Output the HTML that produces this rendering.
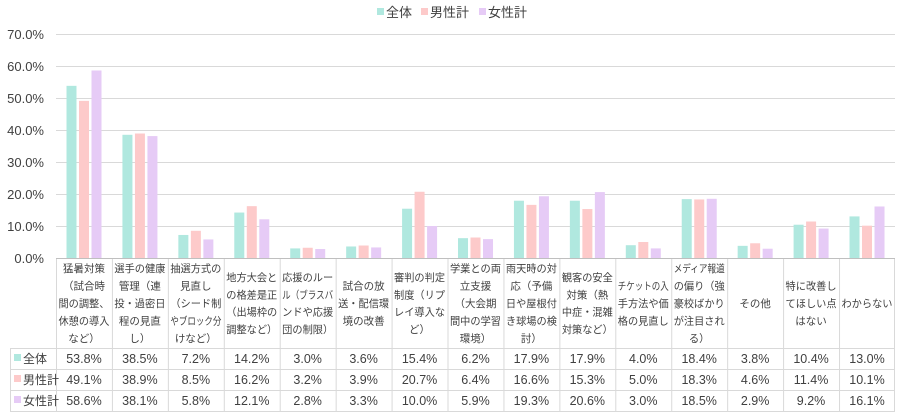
<!DOCTYPE html><html><head><meta charset="utf-8"><style>
body{margin:0;background:#fff;width:899px;height:415px;overflow:hidden}
svg{font-family:"Liberation Sans","Noto Sans CJK JP",sans-serif}
</style></head><body>
<svg width="899" height="415" xmlns="http://www.w3.org/2000/svg">
<g font-size="13" fill="#404040">
<rect x="377" y="8" width="7" height="7" fill="#b0e8df"/><text x="386" y="17">全体</text>
<rect x="421" y="8" width="7" height="7" fill="#fdcaca"/><text x="430" y="17">男性計</text>
<rect x="479" y="8" width="7" height="7" fill="#e6cbf6"/><text x="488" y="17">女性計</text>
</g>
<g stroke="#d9d9d9" stroke-width="1">
<line x1="56" x2="895" y1="34.5" y2="34.5"/><line x1="56" x2="895" y1="66.5" y2="66.5"/>
<line x1="56" x2="895" y1="98.5" y2="98.5"/><line x1="56" x2="895" y1="130.5" y2="130.5"/>
<line x1="56" x2="895" y1="162.5" y2="162.5"/><line x1="56" x2="895" y1="194.5" y2="194.5"/>
<line x1="56" x2="895" y1="226.5" y2="226.5"/>
</g>
<g font-size="13" fill="#404040" text-anchor="end">
<text x="44" y="39">70.0%</text><text x="44" y="71">60.0%</text><text x="44" y="103">50.0%</text>
<text x="44" y="135">40.0%</text><text x="44" y="167">30.0%</text><text x="44" y="199">20.0%</text>
<text x="44" y="231">10.0%</text><text x="44" y="263">0.0%</text>
</g>
<g id="bars"></g>
<g stroke="#d9d9d9" stroke-width="1" fill="none" id="grid"></g>
<g font-size="11.5" fill="#404040" text-anchor="middle" id="txt"></g>
</svg>
<script>
var d=[[53.8,49.1,58.6],[38.5,38.9,38.1],[7.2,8.5,5.8],[14.2,16.2,12.1],[3.0,3.2,2.8],[3.6,3.9,3.3],[15.4,20.7,10.0],[6.2,6.4,5.9],[17.9,16.6,19.3],[17.9,15.3,20.6],[4.0,5.0,3.0],[18.4,18.3,18.5],[3.8,4.6,2.9],[10.4,11.4,9.2],[13.0,10.1,16.1]];
var labels=[["猛暑対策","（試合時","間の調整、","休憩の導入","など）"],["選手の健康","管理（連","投・過密日","程の見直","し）"],["抽選方式の","見直し","（シード制","やブロック分","けなど）"],["地方大会と","の格差是正","（出場枠の","調整など）"],["応援のルー","ル（ブラスバ","ンドや応援","団の制限）"],["試合の放","送・配信環","境の改善"],["審判の判定","制度（リプ","レイ導入な","ど）"],["学業との両","立支援","（大会期","間中の学習","環境）"],["雨天時の対","応（予備","日や屋根付","き球場の検","討）"],["観客の安全","対策（熱","中症・混雑","対策など）"],["チケットの入","手方法や価","格の見直し"],["メディア報道","の偏り（強","豪校ばかり","が注目され","る）"],["その他"],["特に改善し","てほしい点","はない"],["わからない"]];
var cols=["#b0e8df","#fdcaca","#e6cbf6"],names=["全体","男性計","女性計"];
var ns="http://www.w3.org/2000/svg",X0=56,W=55.93;
function el(p,t,a,s){var e=document.createElementNS(ns,t);for(var k in a)e.setAttribute(k,a[k]);if(s!=null)e.textContent=s;document.getElementById(p).appendChild(e);}
d.forEach(function(r,i){r.forEach(function(v,j){var h=v*3.2;el("bars","rect",{x:X0+i*W+10.5+j*12.5,y:258-h,width:10,height:h,fill:cols[j]});});
var cx=X0+i*W+W/2,L=labels[i],n=L.length,y0=303-(n-1)*8.7+4;
L.forEach(function(s,k){var a={x:cx,y:y0+k*17.4,"font-size":"10.5"};if(s.length>=5){a.textLength=Math.min(51,s.length*10.2);a.lengthAdjust="spacingAndGlyphs";}el("txt","text",a,s);});
r.forEach(function(v,j){el("txt","text",{x:cx,y:363+j*21,"font-size":"12.5"},v.toFixed(1)+"%");});
el("grid","line",{x1:X0+i*W+.5,x2:X0+i*W+.5,y1:258,y2:411});});
el("grid","line",{x1:894.5,x2:894.5,y1:258,y2:411});
el("grid","line",{x1:10.5,x2:10.5,y1:348,y2:411});
[258.5].forEach(function(y){el("grid","line",{x1:56,x2:895,y1:y,y2:y,stroke:"#bfbfbf"});});
[348.5,369.5,390.5,411.5].forEach(function(y){el("grid","line",{x1:10,x2:895,y1:y,y2:y});});
names.forEach(function(nm,j){el("bars","rect",{x:14,y:354+j*21,width:7,height:7,fill:cols[j]});el("txt","text",{x:23,y:363+j*21,"text-anchor":"start","font-size":"12"},nm);});
</script>
</body></html>
